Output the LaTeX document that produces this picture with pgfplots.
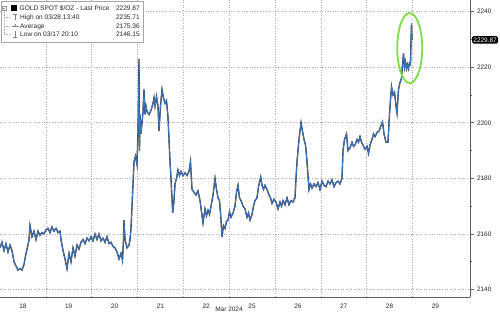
\documentclass[border=0pt]{standalone}
\usepackage{pgfplots}
\pgfplotsset{compat=1.18}
\usepackage{pgfplotstable}
\usepackage{fontspec}
\setmainfont{Liberation Sans}
\definecolor{goldline}{RGB}{60,118,195}
\definecolor{gridgray}{RGB}{175,175,175}
\definecolor{axgray}{RGB}{95,95,95}
\definecolor{ringgreen}{RGB}{125,220,70}

% px = horizontal position (45.83 per trading day), val = price
\pgfplotstableread{
px val
0 2155
2 2157
4 2154
6 2156.5
8 2153.5
10 2156
12 2154
14 2150
16 2148.5
18 2147
20 2147.5
22 2147
24 2149
26 2153
28 2156
29 2158
30 2163
32 2159
34 2161
36 2158
38 2161
40 2159.5
42 2160.5
44 2160
46 2161.5
48 2162
50 2160.5
52 2162.5
54 2161
56 2162
58 2160.5
60 2161
61 2158
63 2154
65 2151
67 2147.5
69 2153
71 2150
73 2155
75 2152
77 2156
79 2154.5
81 2157
83 2158
85 2156.5
87 2158.5
89 2157.5
91 2159
93 2157.5
95 2160
97 2158
99 2160
101 2157.5
103 2158.5
105 2157
107 2159
109 2156.5
111 2157
113 2155.5
115 2155
117 2153.5
119 2151
121 2153
122.5 2150.5
123.5 2158
124 2165
125 2158
127 2155
129 2156
130 2158
131 2162
132 2170
133 2178
134 2186
135.5 2188
137 2185
138 2197
139 2223
139.5 2190
140 2203
141 2196
142 2200
143 2204
144 2212
145 2203
146 2206
147 2204
149 2203
151 2204.5
153 2207
154 2209
155 2206
156.5 2209.5
158 2206
159 2197
160.5 2206
162 2212
163.5 2209
165 2207
166.5 2208
168 2202
169 2194
170 2186
171 2180
172.7 2167.5
174 2172
175 2178
176.5 2180
178 2183
179.5 2181
181 2182.5
183 2181
185 2182
187 2181
189 2182.5
190.5 2186
192 2176
194 2175
196 2174
198 2175.5
200 2172
201.5 2168
203 2164
205 2169
206.5 2166.5
208 2168.5
209.5 2167
211 2170
213 2174
215 2180
216.5 2176
218 2173
219.5 2172
221 2165
222 2159
223.5 2163
225 2162
226.5 2164.5
228 2165
229.5 2168
231 2166
233 2167.5
235 2170
236.5 2175
238 2177.5
239.5 2173
241 2172
243 2170
245 2169
247 2166
248.5 2167.5
250 2165
252 2167
253.5 2170
255 2172
257 2173
258.5 2177
260.7 2180.5
262 2177.5
263.5 2176
265 2177.5
267 2176
269 2174
270.5 2173
272 2171
274 2172.5
276 2171.5
278 2169
280 2171.5
281.5 2170
283 2172
285 2170.5
287 2173
289 2170.5
291 2172
293 2171.5
295 2173
296 2180
297 2186
299 2194
301 2200
302.5 2197
304 2194
305.5 2192
307 2186
308 2181
309 2176
310.5 2178
312 2176.5
314 2178
316 2177
318 2178.5
320 2176
322 2179
324 2177.5
326 2177
328 2179
330 2178
332 2179.5
334 2177
336 2178.5
338 2179
340 2178
342 2180
343 2190
344.5 2194
346.5 2196
348 2190
350 2191
352 2193
353.5 2191.5
355 2192
357 2194
358.5 2193
360 2195
361.5 2193
363 2192
365 2190.5
367 2191.5
368.5 2189
370 2192
372 2194
373.5 2196
375 2195
377 2196.5
379 2197
381 2199
382.5 2200.3
384 2196
386 2193
388 2193
389 2200
390 2206
391.5 2213
393 2210
394.5 2211
396 2206
397 2203.5
398.5 2212
400 2214.5
401.5 2216
402.5 2221
403.5 2225
404.5 2220
405.5 2222
406.5 2219.5
407.5 2221
408.5 2219.5
409.5 2221.5
410.5 2221
411 2230
411.5 2235.71
412 2229.87
}\gold

\begin{document}
\begin{tikzpicture}
\begin{axis}[
  at={(0,17bp)}, anchor=south west,
  scale only axis, width=470bp, height=297bp,
  xmin=0, xmax=10.255, ymin=2137.3, ymax=2244.2,
  axis x line*=bottom, axis y line*=right,
  axis line style={axgray, line width=0.7bp},
  xtick={0.5,1.5,2.5,3.5,4.5,5.5,6.5,7.5,8.5,9.5},
  xticklabels={18,19,20,21,22,25,26,27,28,29},
  minor xtick={1,2,3,4,5,6,7,8,9},
  x tick style={draw=none},
  xminorgrids,
  minor x grid style={gridgray, dash pattern=on 1bp off 1.6bp, line width=0.6bp},
  ytick={2140,2160,2180,2200,2220,2240},
  minor ytick={2150,2170,2190,2210,2230},
  ymajorgrids,
  major y grid style={gridgray, dash pattern=on 1bp off 1.6bp, line width=0.6bp},
  tick align=outside,
  major tick length=3.5bp, minor tick length=2bp,
  y tick style={axgray, line width=0.6bp},
  yticklabel pos=right,
  ticklabel style={font=\fontsize{6.5}{7}\selectfont, text=black!85},
  /pgf/number format/assume math mode=true,
  /pgf/number format/1000 sep={},
  clip mode=individual,
]
\addplot[black!80, line width=1.35bp] table[x expr=\thisrow{px}/45.83, y=val] {\gold};
\addplot[goldline, line width=0.85bp] table[x expr=\thisrow{px}/45.83, y=val] {\gold};
\draw[ringgreen, line width=1.8bp] (axis cs:8.94,2226.9) ellipse [x radius=12.5bp, y radius=35bp];
\node[fill=black, text=white, font=\fontsize{6.5}{7}\selectfont, inner xsep=1.2bp, inner ysep=1.5bp,
      rounded corners=1.5bp, anchor=west] at ([xshift=2bp]axis cs:10.255,2229.87) {2229.87};
\end{axis}
\begin{scope}[x=1bp, y=-1bp, shift={(0,314bp)}]
  % legend box
  \draw[gray!70, line width=0.6bp, fill=white] (1,1) rectangle (143,42);
  \draw[gray!60, line width=0.4bp, dash pattern=on 0.6bp off 0.9bp] (4,11) -- (4,34.3) (4,17.3) -- (10,17.3) (4,26) -- (10,26) (4,34.3) -- (10,34.3);
  \draw[gray!80, line width=0.4bp, fill=white] (2,6) rectangle (6,10.6);
  \draw[gray!80, line width=0.4bp] (2.8,8.3) -- (5.2,8.3);
  \fill[black] (11,5.5) rectangle (16.5,11.2);
  \draw[gray, line width=0.6bp] (13,14.5) -- (17,14.5) (15,14.5) -- (15,20.5);
  \draw[gray, line width=0.6bp] (11.5,26) -- (18.5,26) (15,24.5) -- (15,27.5);
  \draw[gray, line width=0.6bp] (15,31) -- (15,37) (13,37) -- (17,37);
  \begin{scope}[font=\fontsize{6.6}{8}\selectfont, text=black!85]
    \node[anchor=base west, inner sep=0] at (19.5,10.8) {GOLD SPOT \$/OZ - Last Price};
    \node[anchor=base west, inner sep=0] at (20,19.8) {High on 03/28 13:40};
    \node[anchor=base west, inner sep=0] at (20,28.5) {Average};
    \node[anchor=base west, inner sep=0] at (20,36.8) {Low on 03/17 20:10};
    \node[anchor=base east, inner sep=0] at (140,10.8) {2229.87};
    \node[anchor=base east, inner sep=0] at (140,19.8) {2235.71};
    \node[anchor=base east, inner sep=0] at (140,28.5) {2175.36};
    \node[anchor=base east, inner sep=0] at (140,36.8) {2146.15};
  \end{scope}
  \node[font=\fontsize{6.5}{7}\selectfont, text=black!85, inner sep=0] at (229,309.5) {Mar 2024};
\end{scope}
\pgfresetboundingbox
\useasboundingbox (0,0) rectangle (500bp,314bp);
\end{tikzpicture}
\end{document}
